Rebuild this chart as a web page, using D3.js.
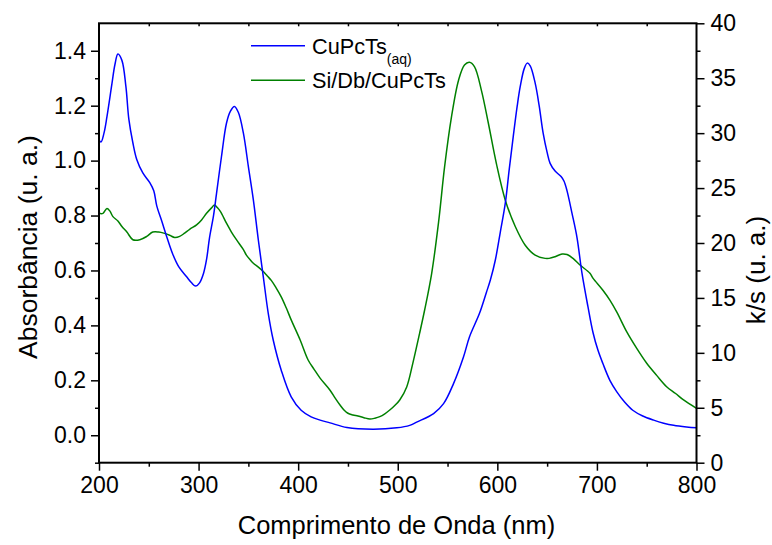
<!DOCTYPE html>
<html>
<head>
<meta charset="utf-8">
<script src="https://cdn.jsdelivr.net/npm/d3@7"></script>
<style>
  body { margin: 0; background: #fff; }
  text { font-family: Arial, "Liberation Sans", sans-serif; fill: #000; }
</style>
</head>
<body>
<div id="chart"></div>
<script>
// dados
const wlBlue = [200,202,205,208,213,216,219,223,227,230,234,238,244,251,255,258,263,268,274,280,288,293,297,301,305,308,311,315,318,323,328,332,336,340,345,350,355,360,365,370,375,383,393,403,413,422,432,449,475,499,512,519,536,546,556,566,572,582,589,593,598,603,608,612,616,620,623,627,630,633,638,642,646,650,653,658,664,667,670,675,680,685,691,696,701,706,713,720,728,736,746,757,767,777,790,800];
const absBlue = [1.075,1.068,1.10,1.16,1.28,1.35,1.388,1.365,1.27,1.15,1.065,1.003,0.955,0.92,0.89,0.835,0.78,0.723,0.66,0.614,0.577,0.555,0.543,0.555,0.59,0.64,0.72,0.80,0.88,1.015,1.136,1.18,1.197,1.175,1.10,0.978,0.857,0.711,0.577,0.443,0.346,0.237,0.14,0.091,0.067,0.055,0.045,0.028,0.022,0.027,0.036,0.048,0.079,0.115,0.188,0.285,0.358,0.443,0.52,0.565,0.638,0.74,0.845,0.97,1.088,1.20,1.27,1.335,1.355,1.345,1.282,1.20,1.10,1.03,0.99,0.962,0.942,0.925,0.89,0.808,0.72,0.59,0.468,0.375,0.31,0.261,0.20,0.158,0.12,0.091,0.07,0.055,0.044,0.036,0.030,0.027];

const wlGreen = [200,204,208,211,214,219,223,228,234,241,248,254,260,265,271,276,281,286,291,298,303,308,313,316,319,322,328,333,338,345,348,352,355,360,365,369,373,378,383,388,393,402,410,416,422,432,437,442,446,450,455,460,466,472,477,482,487,492,497,502,509,515,522,527,534,541,547,554,561,567,572,577,584,591,599,608,618,628,638,648,652,658,665,670,676,683,693,696,706,713,720,730,740,750,760,770,779,787,800];
const ksGreen = [22.7,22.7,23.15,22.9,22.4,22.0,21.5,21.0,20.3,20.3,20.6,21.0,21.0,20.9,20.7,20.5,20.6,20.9,21.25,21.65,22.1,22.7,23.2,23.45,23.2,22.85,21.8,21.0,20.3,19.4,18.9,18.45,18.15,17.8,17.4,17.0,16.6,15.9,15.1,14.1,13.0,11.17,9.35,8.5,7.7,6.6,5.9,5.25,4.8,4.5,4.35,4.25,4.1,3.98,4.05,4.19,4.45,4.8,5.2,5.71,6.9,9.0,11.8,13.9,17.2,21.9,26.9,31.5,34.8,36.2,36.45,36.05,33.9,30.9,27.25,23.9,21.5,19.8,18.9,18.6,18.6,18.75,19.0,18.95,18.6,18.0,17.24,16.8,15.7,14.8,13.7,11.9,10.4,9.05,7.95,6.92,6.3,5.71,4.95];

const xTicks = [200,300,400,500,600,700,800];
const yLeftTicks = [0.0,0.2,0.4,0.6,0.8,1.0,1.2,1.4];
const yRightTicks = [0,5,10,15,20,25,30,35,40];
const seriesNames = ["CuPcTs", "Si/Db/CuPcTs"];
const seriesColors = ["#0000ff", "#008000"];

const WIDTH = 772, HEIGHT = 545;
const margin = { top: 23.3, right: 75.5, bottom: 82.3, left: 99 };
const innerW = WIDTH - margin.left - margin.right;
const innerH = HEIGHT - margin.top - margin.bottom;

const svg = d3.select('#chart').append('svg')
  .attr('width', WIDTH).attr('height', HEIGHT);

const g = svg.append('g').attr('transform', `translate(${margin.left},${margin.top})`);

const x = d3.scaleLinear().domain([200, 800]).range([0, innerW]);
const yL = d3.scaleLinear().domain([-0.1, 1.5]).range([innerH, 0]);
const yR = d3.scaleLinear().domain([0, 40]).range([innerH, 0]);

// curvas
const blueData = wlBlue.map((w, i) => [w, absBlue[i]]);
const greenData = wlGreen.map((w, i) => [w, ksGreen[i]]);

g.append('path')
  .datum(greenData)
  .attr('fill', 'none')
  .attr('stroke', seriesColors[1])
  .attr('stroke-width', 1.5)
  .attr('d', d3.line().x(d => x(d[0])).y(d => yR(d[1])).curve(d3.curveCatmullRom));

g.append('path')
  .datum(blueData)
  .attr('fill', 'none')
  .attr('stroke', seriesColors[0])
  .attr('stroke-width', 1.5)
  .attr('d', d3.line().x(d => x(d[0])).y(d => yL(d[1])).curve(d3.curveCatmullRom));

// eixos
const TICK_FONT = 23;
function styleAxis(sel) {
  sel.select('.domain').remove();
  sel.selectAll('line').attr('stroke', '#000').attr('stroke-width', 1.5);
  sel.selectAll('text').style('font-size', TICK_FONT + 'px').attr('fill', '#000');
}

const xMinor = d3.range(250, 800, 100);
const yLMinor = d3.range(-0.1, 1.5, 0.2);
const yRMinor = d3.range(2.5, 40, 5);

// inferior
g.append('g').attr('transform', `translate(0,${innerH})`)
  .call(d3.axisBottom(x).tickValues(xTicks).tickSize(8).tickPadding(6).tickFormat(d3.format('d')))
  .call(styleAxis);
g.append('g').attr('transform', `translate(0,${innerH})`)
  .call(d3.axisBottom(x).tickValues(xMinor).tickSize(4).tickFormat(''))
  .call(styleAxis);

// superior (ticks para dentro)
g.append('g')
  .call(d3.axisTop(x).tickValues(d3.range(250, 800, 50)).tickSize(-3).tickFormat(''))
  .call(styleAxis);

// esquerda
g.append('g')
  .call(d3.axisLeft(yL).tickValues(yLeftTicks).tickSize(8).tickPadding(5).tickFormat(d3.format('.1f')))
  .call(styleAxis);
g.append('g')
  .call(d3.axisLeft(yL).tickValues(yLMinor).tickSize(4).tickFormat(''))
  .call(styleAxis);

// direita
g.append('g').attr('transform', `translate(${innerW},0)`)
  .call(d3.axisRight(yR).tickValues(yRightTicks).tickSize(8).tickPadding(6))
  .call(styleAxis);
g.append('g').attr('transform', `translate(${innerW},0)`)
  .call(d3.axisRight(yR).tickValues(yRMinor).tickSize(4).tickFormat(''))
  .call(styleAxis);

// moldura
g.append('rect')
  .attr('width', innerW).attr('height', innerH)
  .attr('fill', 'none').attr('stroke', '#000').attr('stroke-width', 2);

// títulos dos eixos
svg.append('text')
  .attr('x', 396.5).attr('y', 534)
  .attr('text-anchor', 'middle')
  .style('font-size', '25.5px')
  .text('Comprimento de Onda (nm)');

svg.append('text')
  .attr('transform', 'translate(37,247) rotate(-90)')
  .attr('text-anchor', 'middle')
  .style('font-size', '26.5px')
  .text('Absorbância (u. a.)');

svg.append('text')
  .attr('transform', 'translate(765,270) rotate(-90)')
  .attr('text-anchor', 'middle')
  .style('font-size', '26px')
  .text('k/s (u. a.)');

// legenda
const legend = svg.append('g');
const legY = [45.7, 80.3];
seriesNames.forEach((name, i) => {
  legend.append('line')
    .attr('x1', 251).attr('x2', 305)
    .attr('y1', legY[i]).attr('y2', legY[i])
    .attr('stroke', seriesColors[i]).attr('stroke-width', 1.5);
  const t = legend.append('text')
    .attr('x', 312).attr('y', legY[i] + 7.8)
    .style('font-size', '21.7px');
  t.append('tspan').text(name);
  if (i === 0) {
    t.append('tspan').attr('dy', 10).style('font-size', '14px').text('(aq)');
  }
});
</script>
</body>
</html>
